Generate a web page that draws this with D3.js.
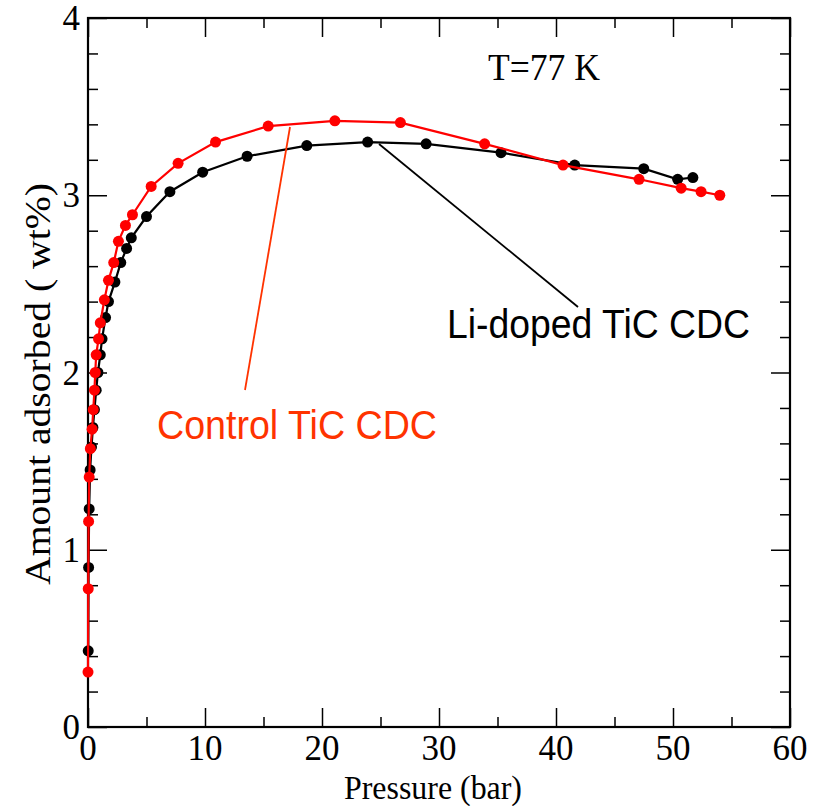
<!DOCTYPE html>
<html>
<head>
<meta charset="utf-8">
<script src="https://cdn.jsdelivr.net/npm/d3@7"></script>
<style>
  html, body { margin: 0; padding: 0; background: #fff; }
  svg { display: block; }
</style>
</head>
<body>
<svg id="chart" width="819" height="806"></svg>
<script>
// Hydrogen uptake at 77 K, pressure in bar vs. amount adsorbed in wt%
const controlPressure = [0.0, 0.02, 0.05, 0.1, 0.2, 0.35, 0.45, 0.55, 0.62, 0.7, 0.9, 1.05, 1.4, 1.75, 2.2, 2.6, 3.2, 3.8, 5.4, 7.7, 10.9, 15.4, 21.1, 26.7, 33.9, 40.6, 47.1, 50.7, 52.4, 54.0];
const controlAmount   = [0.31, 0.78, 1.16, 1.41, 1.57, 1.68, 1.79, 1.90, 2.00, 2.10, 2.19, 2.28, 2.41, 2.52, 2.62, 2.74, 2.83, 2.89, 3.05, 3.18, 3.30, 3.39, 3.42, 3.41, 3.29, 3.17, 3.09, 3.04, 3.02, 3.00];

const dopedPressure = [0.02, 0.05, 0.1, 0.18, 0.3, 0.42, 0.55, 0.7, 0.85, 1.05, 1.2, 1.5, 1.75, 2.3, 2.8, 3.3, 3.7, 5.0, 7.0, 9.8, 13.6, 18.7, 23.9, 28.9, 35.3, 41.6, 47.5, 50.4, 51.7];
const dopedAmount   = [0.43, 0.90, 1.23, 1.45, 1.58, 1.69, 1.79, 1.90, 2.00, 2.10, 2.19, 2.31, 2.40, 2.51, 2.62, 2.70, 2.76, 2.88, 3.02, 3.13, 3.22, 3.28, 3.30, 3.29, 3.24, 3.17, 3.15, 3.09, 3.10];

const xMajorTicks = [0, 10, 20, 30, 40, 50, 60];
const yMajorTicks = [0, 1, 2, 3, 4];

const svg = d3.select("#chart");
const plotLeft = 88, plotRight = 790, plotTop = 18, plotBottom = 727;

const x = d3.scaleLinear().domain([0, 60]).range([plotLeft, plotRight]);
const y = d3.scaleLinear().domain([0, 4]).range([plotBottom, plotTop]);

const serif = "'Liberation Serif', 'Times New Roman', Times, serif";
const sans = "'Liberation Sans', Arial, Helvetica, sans-serif";

// Frame ticks, pointing inward on all four sides
function tickAxis(axisFn, scale, major, minor, g) {
  const ax = axisFn(scale).tickValues(minor).tickSizeInner(-10).tickSizeOuter(0).tickFormat("");
  g.call(ax);
  g.selectAll(".tick line").filter(d => major.includes(d)).attr("x2", function() {
    const v = +d3.select(this).attr("x2"); return v ? v * 1.9 : v;
  }).attr("y2", function() {
    const v = +d3.select(this).attr("y2"); return v ? v * 1.9 : v;
  });
  g.select(".domain").remove();
  g.selectAll(".tick line").attr("stroke", "#000").attr("stroke-width", 1.5);
}

const xMinor = d3.range(0, 61, 5);
const yMinor = d3.range(0, 21).map(i => +(i * 0.2).toFixed(1));

tickAxis(d3.axisBottom, x, xMajorTicks, xMinor, svg.append("g").attr("transform", `translate(0,${plotBottom})`));
tickAxis(d3.axisTop, x, xMajorTicks, xMinor, svg.append("g").attr("transform", `translate(0,${plotTop})`));
tickAxis(d3.axisLeft, y, yMajorTicks, yMinor, svg.append("g").attr("transform", `translate(${plotLeft},0)`));
tickAxis(d3.axisRight, y, yMajorTicks, yMinor, svg.append("g").attr("transform", `translate(${plotRight},0)`));

svg.append("rect")
  .attr("x", plotLeft).attr("y", plotTop)
  .attr("width", plotRight - plotLeft).attr("height", plotBottom - plotTop)
  .attr("fill", "none").attr("stroke", "#000").attr("stroke-width", 2.2);

// Tick labels
svg.append("g").selectAll("text").data(xMajorTicks).join("text")
  .attr("x", d => x(d)).attr("y", plotBottom + 33)
  .attr("text-anchor", "middle")
  .attr("font-family", serif).attr("font-size", 35)
  .text(d => d);

svg.append("g").selectAll("text").data(yMajorTicks).join("text")
  .attr("x", plotLeft - 8).attr("y", d => y(d) + 12)
  .attr("text-anchor", "end")
  .attr("font-family", serif).attr("font-size", 35)
  .text(d => d);

// Axis titles
svg.append("text")
  .attr("x", 433).attr("y", 799)
  .attr("text-anchor", "middle")
  .attr("font-family", serif).attr("font-size", 34)
  .attr("textLength", 178).attr("lengthAdjust", "spacingAndGlyphs")
  .text("Pressure (bar)");

svg.append("text")
  .attr("transform", `translate(50,384) rotate(-90)`)
  .attr("text-anchor", "middle")
  .attr("font-family", serif).attr("font-size", 35)
  .attr("textLength", 402).attr("lengthAdjust", "spacingAndGlyphs")
  .text("Amount adsorbed ( wt%)");

svg.append("text")
  .attr("x", 488).attr("y", 80)
  .attr("font-family", serif).attr("font-size", 37)
  .attr("textLength", 112).attr("lengthAdjust", "spacingAndGlyphs")
  .text("T=77 K");

// Series
const line = d3.line().x(d => x(d[0])).y(d => y(d[1]));

function drawSeries(px, py, color) {
  const pts = d3.zip(px, py);
  svg.append("path").datum(pts)
    .attr("d", line).attr("fill", "none")
    .attr("stroke", color).attr("stroke-width", 2.2);
  svg.append("g").selectAll("circle").data(pts).join("circle")
    .attr("cx", d => x(d[0])).attr("cy", d => y(d[1]))
    .attr("r", 5.5).attr("fill", color);
}

drawSeries(dopedPressure, dopedAmount, "#000000");
drawSeries(controlPressure, controlAmount, "#ff0000");

// Callout labels
svg.append("line")
  .attr("x1", 245).attr("y1", 390).attr("x2", 290).attr("y2", 127)
  .attr("stroke", "#ff3300").attr("stroke-width", 1.8);
svg.append("text")
  .attr("x", 157).attr("y", 439)
  .attr("font-family", sans).attr("font-size", 41)
  .attr("fill", "#ff3300")
  .attr("textLength", 280).attr("lengthAdjust", "spacingAndGlyphs")
  .text("Control TiC CDC");

svg.append("line")
  .attr("x1", 379).attr("y1", 144).attr("x2", 578).attr("y2", 307)
  .attr("stroke", "#000").attr("stroke-width", 1.8);
svg.append("text")
  .attr("x", 447).attr("y", 338)
  .attr("font-family", sans).attr("font-size", 41)
  .attr("fill", "#000")
  .attr("textLength", 303).attr("lengthAdjust", "spacingAndGlyphs")
  .text("Li-doped TiC CDC");
</script>
</body>
</html>
